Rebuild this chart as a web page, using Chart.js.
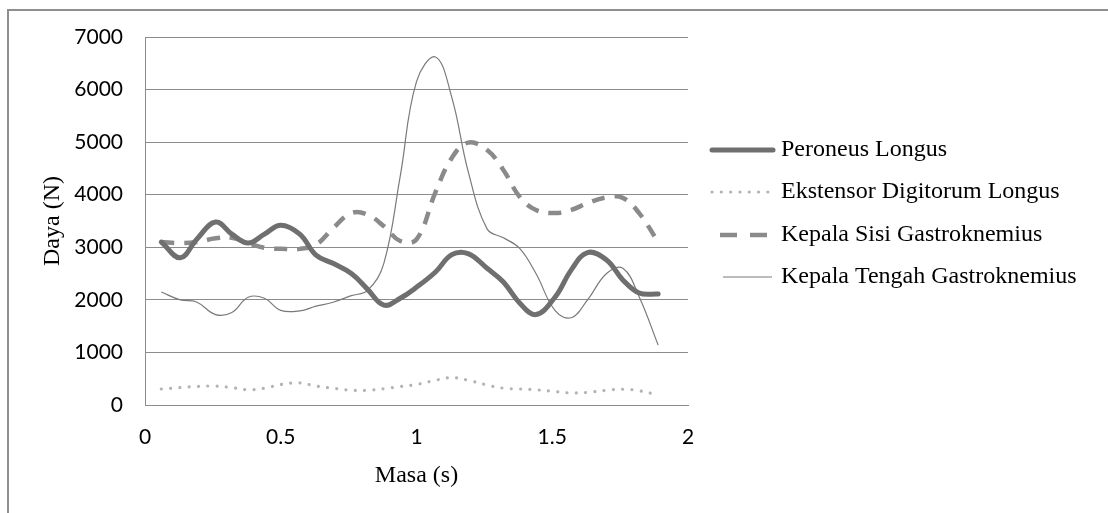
<!DOCTYPE html>
<html>
<head>
<meta charset="utf-8">
<script src="https://cdn.jsdelivr.net/npm/chart.js@4/dist/chart.umd.min.js"></script>
<style>
  html, body { margin: 0; padding: 0; background: #fff; overflow: hidden; }
  #wrap { position: relative; width: 1108px; height: 513px; }
  #frame { position: absolute; left: 7px; top: 9px; width: 1120px; height: 520px;
           border: 2px solid #8f8f8f; box-sizing: border-box; pointer-events: none; }
  canvas { position: absolute; left: 0; top: 0; }
</style>
</head>
<body>
<div id="wrap">
  <canvas id="c" width="1108" height="513"></canvas>
  <div id="frame"></div>
</div>
<script>
// Time samples (s)
const masa = [0.06, 0.13, 0.19, 0.26, 0.32, 0.38, 0.44, 0.50, 0.57, 0.63,
              0.69, 0.76, 0.82, 0.88, 0.94, 1.00, 1.07, 1.13, 1.19, 1.26,
              1.32, 1.38, 1.44, 1.51, 1.57, 1.63, 1.70, 1.76, 1.82, 1.89];

// Force (N) per muscle
const peroneusLongus = [3100, 2800, 3150, 3480, 3250, 3080, 3250, 3420, 3250, 2850,
                        2700, 2500, 2200, 1900, 2030, 2240, 2530, 2860, 2880, 2600,
                        2340, 1940, 1720, 2050, 2570, 2900, 2760, 2380, 2130, 2110];
const ekstensorDigitorumLongus = [304, 330, 352, 360, 330, 290, 318, 390, 420, 360,
                                  320, 280, 280, 310, 350, 390, 470, 520, 470, 380,
                                  320, 305, 290, 255, 230, 240, 280, 300, 270, 190];
const kepalaSisiGastroknemius = [3100, 3080, 3100, 3170, 3180, 3080, 2990, 2970, 2970, 3050,
                                 3350, 3650, 3620, 3400, 3120, 3150, 4050, 4700, 4990, 4850,
                                 4470, 3960, 3710, 3650, 3710, 3840, 3950, 3940, 3650, 3100];
const kepalaTengahGastroknemius = [2150, 2000, 1960, 1720, 1760, 2050, 2030, 1800, 1790, 1880,
                                   1950, 2080, 2180, 2700, 4350, 6150, 6620, 5850, 4450, 3350,
                                   3180, 2980, 2500, 1800, 1660, 2000, 2500, 2600, 2060, 1140];

// Axis ticks
const xTicks = [0, 0.5, 1, 1.5, 2];
const xTickLabels = ['0', '0.5', '1', '1.5', '2'];
const yTicks = [0, 1000, 2000, 3000, 4000, 5000, 6000, 7000];
const yTickLabels = ['0', '1000', '2000', '3000', '4000', '5000', '6000', '7000'];

const seriesNames = ['Peroneus Longus', 'Ekstensor Digitorum Longus',
                     'Kepala Sisi Gastroknemius', 'Kepala Tengah Gastroknemius'];

const pts = vals => masa.map((t, i) => ({ x: t, y: vals[i] }));

const datasets = [
  { label: seriesNames[0], data: pts(peroneusLongus),
    borderColor: '#6f6f6f', borderWidth: 5, borderCapStyle: 'round', borderJoinStyle: 'round' },
  { label: seriesNames[1], data: pts(ekstensorDigitorumLongus),
    borderColor: '#b3b3b3', borderWidth: 3.2, borderDash: [0.01, 9.3], borderCapStyle: 'round' },
  { label: seriesNames[2], data: pts(kepalaSisiGastroknemius),
    borderColor: '#8a8a8a', borderWidth: 4.5, borderDash: [13, 10], borderCapStyle: 'butt' },
  { label: seriesNames[3], data: pts(kepalaTengahGastroknemius),
    borderColor: '#7a7a7a', borderWidth: 1.2 }
].map(d => Object.assign({ pointRadius: 0, tension: 0.4, fill: false }, d));

// Legend drawn beside the plot, one row per series with its own stroke style
const sideLegend = {
  id: 'sideLegend',
  afterDraw(chart) {
    const ctx = chart.ctx;
    const rows = [150, 192, 235, 277];
    const samples = [[712, 773], [712, 771], [720, 768], [723, 772]];
    ctx.save();
    chart.data.datasets.forEach((ds, i) => {
      const y = rows[i];
      ctx.beginPath();
      ctx.strokeStyle = ds.borderColor;
      ctx.lineWidth = ds.borderWidth;
      ctx.lineCap = ds.borderCapStyle || 'butt';
      ctx.setLineDash(i === 2 ? [17, 13] : (ds.borderDash || []));
      ctx.moveTo(samples[i][0], y);
      ctx.lineTo(samples[i][1], y);
      ctx.stroke();
      ctx.setLineDash([]);
      ctx.fillStyle = '#000';
      ctx.font = '24px "Liberation Serif", "Times New Roman", serif';
      ctx.textBaseline = 'middle';
      ctx.textAlign = 'left';
      ctx.fillText(ds.label, 781, y);
    });
    ctx.restore();
  }
};

new Chart(document.getElementById('c'), {
  type: 'line',
  data: { datasets },
  plugins: [sideLegend],
  options: {
    responsive: false,
    devicePixelRatio: 1,
    animation: false,
    layout: { padding: { top: 37, right: 420, bottom: 0, left: 0 } },
    plugins: { legend: { display: false }, tooltip: { enabled: false } },
    scales: {
      x: {
        type: 'linear', min: 0, max: 2,
        afterFit(s) { s.height = 108; },
        afterBuildTicks(s) { s.ticks = xTicks.map(v => ({ value: v })); },
        grid: { display: false, drawTicks: false },
        border: { display: true, color: '#8c8c8c', width: 1 },
        ticks: {
          padding: 20, color: '#000', maxRotation: 0,
          font: { family: 'Lato, Calibri, sans-serif', size: 21 },
          callback: v => xTickLabels[xTicks.indexOf(v)]
        },
        title: { display: true, text: 'Masa (s)', color: '#000',
                 font: { family: '"Liberation Serif", "Times New Roman", serif', size: 24 },
                 padding: { top: 0, bottom: 23 } }
      },
      y: {
        min: 0, max: 7000,
        afterFit(s) { s.width = 145; },
        afterBuildTicks(s) { s.ticks = yTicks.map(v => ({ value: v })); },
        grid: { color: '#8c8c8c', lineWidth: 1, drawTicks: false },
        border: { display: true, color: '#8c8c8c', width: 1 },
        ticks: { padding: 22, color: '#000',
                 font: { family: 'Lato, Calibri, sans-serif', size: 21 },
                 callback: v => yTickLabels[yTicks.indexOf(v)] },
        title: { display: true, text: 'Daya (N)', color: '#000',
                 font: { family: '"Liberation Serif", "Times New Roman", serif', size: 24 },
                 padding: { top: 38, bottom: 0 } }
      }
    }
  }
});
</script>
</body>
</html>
